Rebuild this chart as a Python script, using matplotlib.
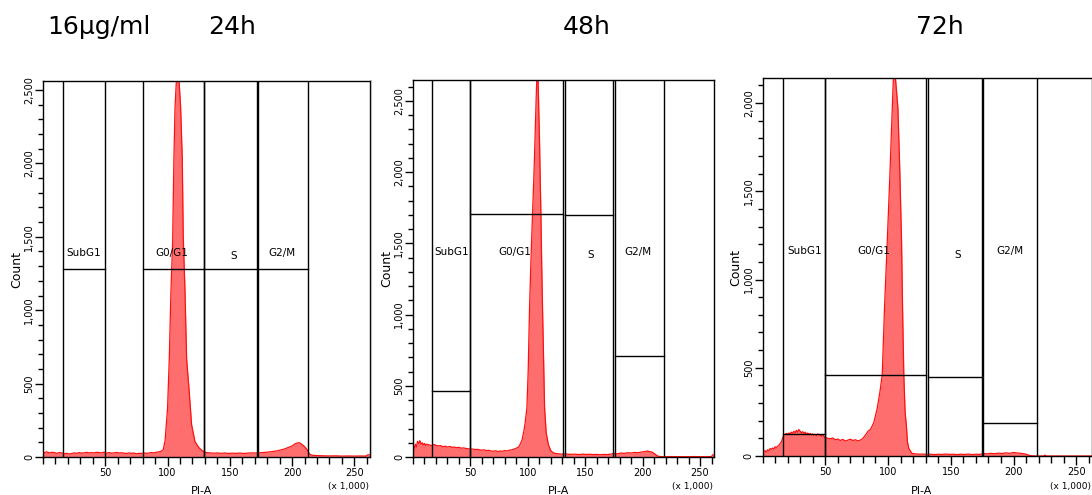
import matplotlib
matplotlib.use("Agg")
import matplotlib.pyplot as plt
from matplotlib.ticker import MultipleLocator, FixedLocator, FuncFormatter
from matplotlib.lines import Line2D

# ---------------- data (PI-A in thousands, counts) ----------------
x1 = [0, 1, 3, 5, 7, 9, 11, 13, 15, 17, 19, 21, 23, 25, 27, 29, 31, 33, 35, 37, 39, 41, 43, 45, 47, 49,
      51, 53, 55, 57, 59, 61, 63, 65, 67, 69, 71, 73, 75, 77, 79, 81, 83, 85, 87, 89, 91, 93, 95,
      96.5, 98, 100, 101.4, 102.7, 104.1, 105.1, 106, 107.3, 108.3, 109, 110.5, 111.8, 112.6, 114,
      115.3, 117.4, 119.3, 122, 125, 128, 131, 134, 137, 140, 143, 146, 149, 152, 155, 158, 161, 164,
      167, 170, 173, 176, 179, 182, 185, 188, 191, 194, 197, 200, 202, 204, 206, 208, 210, 212, 214,
      216, 219, 222, 226, 230, 235, 240, 245, 250, 255, 259, 261, 262]
y1 = [5, 30, 35, 28, 32, 30, 25, 30, 28, 22, 25, 20, 24, 28, 25, 30, 26, 28, 32, 27, 30, 28, 32, 30, 28, 33,
      27, 30, 26, 28, 31, 27, 29, 26, 24, 28, 25, 27, 22, 25, 24, 28, 25, 27, 30, 28, 32, 35, 40,
      50, 110, 330, 670, 1120, 1470, 2030, 2380, 2600, 2650, 2600, 2380, 2040, 1500, 1130,
      670, 445, 220, 105, 65, 42, 30, 28, 26, 27, 25, 27, 24, 26, 25, 27, 24, 26,
      28, 27, 28, 30, 32, 35, 38, 42, 48, 55, 65, 75, 88, 95, 97, 85, 70, 50, 20,
      12, 10, 9, 8, 7, 8, 6, 7, 6, 7, 6, 15, 15]

x2 = [0, 1, 2, 3, 4, 5, 6, 7, 8, 9, 10, 11, 12, 14, 16, 18, 20, 22, 24, 26, 28, 30, 32, 34, 36, 38, 40,
      42, 44, 46, 48, 50, 52, 54, 56, 58, 60, 62, 64, 66, 68, 70, 72, 74, 76, 78, 80, 82, 84, 86, 88,
      90, 92, 93, 95, 96.5, 97.5, 99.2, 100.3, 101.5, 102.8, 104.1, 105.2, 106.2, 107.2, 108, 108.8,
      109.5, 110.2, 110.8, 111.4, 112.1, 112.8, 113.7, 114.6, 116, 118, 120, 122, 124, 127, 130, 133,
      136, 139, 142, 145, 148, 151, 154, 157, 160, 163, 166, 169, 172, 175, 178, 181, 184, 187, 190,
      193, 196, 199, 202, 204, 206, 208, 210, 212, 214, 218, 225, 235, 245, 255, 260, 261, 262]
y2 = [5, 60, 90, 70, 110, 95, 115, 90, 100, 85, 95, 80, 90, 85, 80, 88, 82, 78, 80, 72, 76, 70, 74, 68, 70, 65, 68,
      62, 64, 60, 58, 55, 56, 52, 54, 50, 48, 50, 45, 47, 42, 40, 44, 38, 42, 40, 45, 42, 48, 50, 55,
      62, 70, 84, 120, 180, 230, 344, 600, 1046, 1400, 1706, 1950, 2214, 2500, 2700, 2700,
      2450, 2214, 1950, 1706, 1350, 1046, 700, 344, 170, 84, 45, 30, 25, 22, 20, 22,
      18, 20, 19, 17, 20, 18, 19, 17, 18, 16, 18, 17, 20, 25, 22, 28, 25, 30, 28,
      32, 30, 35, 38, 42, 38, 35, 25, 12, 4, 2, 3, 2, 3, 2, 3, 15, 15]

x3 = [0, 1, 2, 3, 4, 5, 6, 7, 8, 9, 10, 11, 12, 13, 14, 15, 16, 17, 18, 19, 20, 21, 22, 23, 24, 25, 26,
      27, 28, 29, 30, 31, 32, 33, 34, 35, 36, 37, 38, 39, 40, 41, 42, 43, 44, 45, 46, 47, 48, 49, 50,
      52, 54, 56, 58, 60, 62, 64, 66, 68, 70, 72, 74, 76, 78, 80, 82, 84, 86, 88.7, 91.4, 93.5, 95.4,
      97.2, 99.4, 101.5, 103.4, 104.5, 105.5, 107.9, 109.5, 110.8, 111.6, 112.6, 113.6, 114.6, 115.5,
      116.6, 119, 122, 125, 128, 131, 134, 137, 140, 143, 146, 149, 152, 155, 158, 161, 164, 167, 170,
      173, 176, 179, 182, 185, 188, 191, 194, 197, 200, 203, 206, 209, 211, 213, 218, 224, 225, 226,
      240, 262]
y3 = [10, 25, 30, 22, 35, 30, 42, 38, 45, 40, 52, 48, 55, 60, 70, 80, 100, 120, 122, 128, 125, 130, 126,
      135, 128, 140, 132, 145, 135, 150, 140, 132, 138, 128, 135, 125, 130, 122, 128, 120, 125, 118,
      122, 115, 125, 118, 120, 112, 118, 110, 105, 100, 98, 102, 92, 96, 88, 94, 85, 90, 95, 88, 92,
      86, 90, 100, 118, 140, 150, 190, 270, 360, 459, 837, 1214, 1592, 1970, 2180, 2180, 1970, 1592,
      1214, 837, 459, 250, 176, 80, 43, 15, 12, 10, 11, 9, 10, 8, 10, 9, 11, 9, 10, 8, 10, 9, 11, 8,
      10, 9, 14, 12, 15, 13, 16, 14, 18, 15, 20, 17, 15, 12, 8, 2, 0, 0, 5, 0, 0, 0]

# gates: (label, left, right, height)
gate_names = ["SubG1", "G0/G1", "S", "G2/M"]
gates1_lo = [16, 80, 129, 173]
gates1_hi = [50, 129, 172, 213]
gates1_h = [1280, 1280, 1280, 1280]
gates2_lo = [16.6, 50, 132, 175.5]
gates2_hi = [50, 131, 174.5, 219]
gates2_h = [463, 1706, 1699, 709]
gates3_lo = [16, 50, 131.5, 175.5]
gates3_hi = [50, 130.5, 174.5, 219]
gates3_h = [125, 459, 448, 187]

header_texts = ["16\u03bcg/ml", "24h", "48h", "72h"]
x_major = [50, 100, 150, 200, 250]

# ---------------- layout ----------------
W, H = 1092, 495
fig = plt.figure(figsize=(W / 100, H / 100), dpi=100)

def add_ax(l, r, t, b):
    return fig.add_axes([l / W, 1 - b / H, (r - l) / W, (b - t) / H])

panels = [
    dict(box=(43, 369.5, 81, 457), ylim=2561, x=x1, y=y1, lo=gates1_lo, hi=gates1_hi, h=gates1_h,
         lab=[(19, 1390, 'left'), (103.5, 1390, 'center'), (153, 1370, 'center'), (192, 1390, 'center')]),
    dict(box=(413, 714, 80, 457), ylim=2647, x=x2, y=y2, lo=gates2_lo, hi=gates2_hi, h=gates2_h,
         lab=[(19, 1440, 'left'), (89, 1440, 'center'), (154.5, 1415, 'center'), (196, 1440, 'center')]),
    dict(box=(762.5, 1091.5, 78, 456), ylim=2142, x=x3, y=y3, lo=gates3_lo, hi=gates3_hi, h=gates3_h,
         lab=[(19.5, 1161, 'left'), (89, 1161, 'center'), (155.6, 1140, 'center'), (197, 1161, 'center')]),
]

for p in panels:
    ax = add_ax(*p["box"])
    ax.set_xlim(0, 262.144)
    ax.set_ylim(0, p["ylim"])
    ax.fill_between(p["x"], p["y"], 0, color="#ff6e6e", lw=0, zorder=1)
    ax.plot(p["x"], p["y"], color="#ff1010", lw=0.9, zorder=2)
    for lo, hi, h in zip(p["lo"], p["hi"], p["h"]):
        ax.axvline(lo, color="black", lw=1.0, zorder=3)
        ax.axvline(hi, color="black", lw=1.0, zorder=3)
        ax.plot([lo, hi], [h, h], color="black", lw=1.0, zorder=3)
    for name, (lx, ly, ha) in zip(gate_names, p["lab"]):
        ax.text(lx, ly, name, ha=ha, va="center", fontsize=7.5, family="DejaVu Sans", zorder=4)
    for s in ax.spines.values():
        s.set_color("black")
        s.set_linewidth(1.0)
    ax.xaxis.set_major_locator(FixedLocator(x_major))
    ax.xaxis.set_minor_locator(MultipleLocator(10))
    ax.yaxis.set_major_locator(MultipleLocator(500))
    ax.yaxis.set_minor_locator(MultipleLocator(100))
    ax.yaxis.set_major_formatter(FuncFormatter(lambda v, pos: f"{int(v):,}"))
    ax.tick_params(axis="y", which="major", direction="out", length=5.8, width=1, color="black", pad=0.5)
    ax.tick_params(axis="y", which="minor", direction="out", length=3.6, width=1, color="black")
    ax.tick_params(axis="x", which="major", direction="out", length=6.5, width=1, color="black", pad=1.5)
    ax.tick_params(axis="x", which="minor", direction="out", length=5, width=1, color="black")
    for lbl in ax.get_xticklabels():
        lbl.set_fontsize(7)
        lbl.set_family("DejaVu Sans")
    for lbl in ax.get_yticklabels():
        lbl.set_fontsize(7)
        lbl.set_family("DejaVu Sans")
        lbl.set_rotation(90)
        lbl.set_va("center")
    ax.set_ylabel("Count", fontsize=9, family="DejaVu Sans", labelpad=1)
    l, r, t, b = p["box"]
    fig.text(((l + r) / 2 - 5) / W, 1 - 494 / H, "PI-A", ha="center", va="baseline", fontsize=8,
             family="DejaVu Sans")
    fig.text((r - 1) / W, 1 - 482 / H, "(x 1,000)", ha="right", va="top",
             fontsize=6.5, family="DejaVu Sans")

# thin grey frame line left of middle panel
fig.add_artist(Line2D([371 / W, 371 / W], [1 - 457 / H, 1 - 80 / H], color="#bbbbbb", lw=0.8))

# headers
header_x = [47, 208, 563, 916]
for t, hx in zip(header_texts, header_x):
    fig.text(hx / W, 1 - 27 / H, t, ha="left", va="center", fontsize=18,
             family=["Liberation Sans Narrow", "DejaVu Sans"])

fig.savefig("out.png", dpi=100, facecolor="white")
